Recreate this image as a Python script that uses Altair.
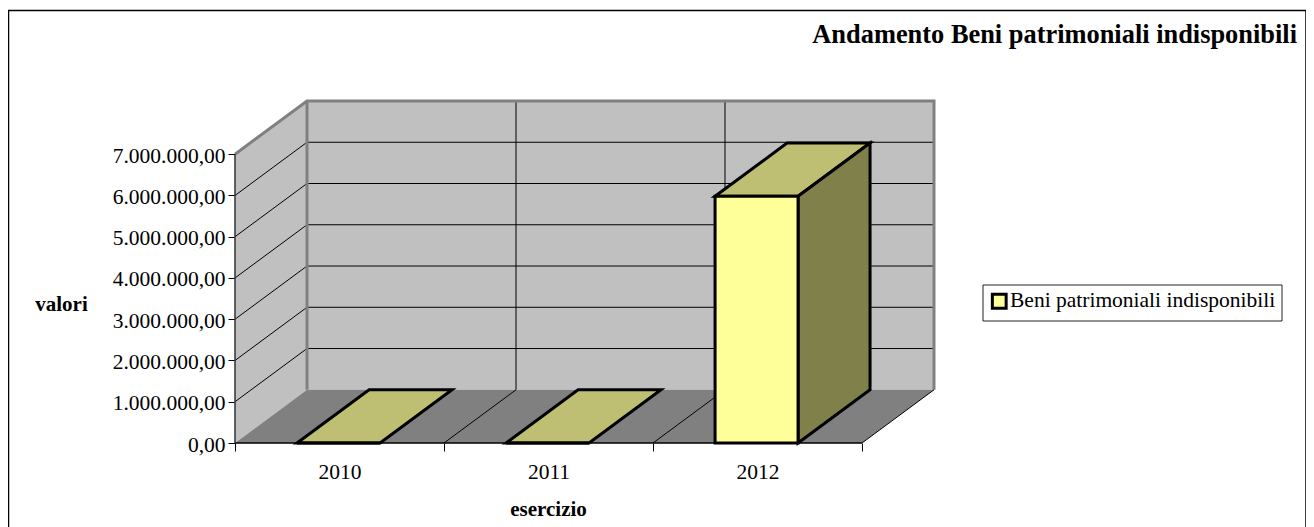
import altair as alt
import pandas as pd

YEARS = ["2010", "2011", "2012"]
VALUES = [0, 0, 5980000]
SERIES = "Beni patrimoniali indisponibili"
TICKS = [0, 1000000, 2000000, 3000000, 4000000, 5000000, 6000000, 7000000]
TICK_LABELS = ["0,00", "1.000.000,00", "2.000.000,00", "3.000.000,00", "4.000.000,00",
               "5.000.000,00", "6.000.000,00", "7.000.000,00"]

W, H = 699, 342
DX = 72 / 209          # depth of the 3D box, in category units
DY = 1290000           # depth of the 3D box, in value units
YMAX = 7000000
BAR_START = 0.297
BAR_W = 0.397
FONT = "Liberation Serif"
LABEL_SIZE = 21.5
TITLE_SIZE = 21

x_scale = alt.Scale(domain=[0, 3 + DX], nice=False, zero=False)
y_scale = alt.Scale(domain=[0, YMAX + DY], nice=False, zero=False)

x_axis = alt.Axis(values=[0, 0.5, 1, 1.5, 2, 2.5, 3], domain=False, grid=False,
                  labelExpr="{0.5:'%s',1.5:'%s',2.5:'%s'}[datum.value] || ''" % tuple(YEARS),
                  tickOpacity={"condition": {"test": "datum.value % 1 !== 0", "value": 0}, "value": 1},
                  tickColor="black", tickSize=8, tickWidth=1,
                  labelFont=FONT, labelFontSize=LABEL_SIZE, labelColor="black", labelPadding=10,
                  labelAngle=0, labelFlush=False, labelOverlap=False,
                  titleFont=FONT, titleFontSize=TITLE_SIZE, titleFontWeight="bold", titleColor="black",
                  titleX=313, titleY=66, titleAlign="center", titleBaseline="middle")
y_axis = alt.Axis(values=TICKS, domain=False, grid=False,
                  labelExpr="%s[datum.value / 1000000]" % TICK_LABELS,
                  tickColor="black", tickSize=7, tickWidth=1,
                  labelFont=FONT, labelFontSize=LABEL_SIZE, labelColor="black", labelPadding=3,
                  labelOverlap=False, labelFlush=False, labelOffset=2,
                  titleFont=FONT, titleFontSize=TITLE_SIZE, titleFontWeight="bold", titleColor="black",
                  titleAngle=0, titleX=-174, titleY=203, titleAlign="center", titleBaseline="middle")

X = alt.X("x:Q", scale=x_scale, axis=x_axis, title="esercizio")
Y = alt.Y("y:Q", scale=y_scale, axis=y_axis, title="valori")


def area(rows, color, stroke=None, sw=3):
    df = pd.DataFrame(rows, columns=["x", "y", "y2"])
    kw = dict(fill=color, strokeJoin="miter")
    if stroke:
        kw.update(stroke=stroke, strokeWidth=sw)
    return alt.Chart(df).mark_area(**kw).encode(x=X, y=Y, y2=alt.Y2("y2:Q"))


def line(points, color, sw=1.0):
    df = pd.DataFrame(points, columns=["x", "y"])
    df["o"] = range(len(df))
    return alt.Chart(df).mark_line(color=color, strokeWidth=sw).encode(
        x=X, y=Y, order=alt.Order("o:Q"))


def para(x0, x1, v):
    return [(x0, v, v), (x0 + DX, v + DY, v), (x1, v + DY, v), (x1 + DX, v + DY, v + DY)]


frame_df = pd.DataFrame({"a": [0]})
frame = alt.Chart(frame_df).mark_rect(fillOpacity=0, stroke="black", strokeWidth=1.5).encode(
    x=alt.value(-226.5), x2=alt.value(1071), y=alt.value(-90.5), y2=alt.value(440))

left_wall = area([(0, 0, YMAX), (DX, DY, YMAX + DY)], "#C0C0C0")
back_wall = area([(DX, DY, YMAX + DY), (3 + DX, DY, YMAX + DY)], "#C0C0C0")
floor = area(para(0, 3, 0), "#808080")

layers = [frame, left_wall, back_wall, floor]

# gridlines
for t in TICKS[1:]:
    layers.append(line([(0, t), (DX, t + DY), (3 + DX, t + DY)], "black", 1))
for i in (1, 2):
    layers.append(line([(i, 0), (i + DX, DY), (i + DX, YMAX + DY)], "black", 1))

# wall border
layers.append(line([(0, YMAX), (DX, YMAX + DY), (3 + DX, YMAX + DY), (3 + DX, DY)], "#808080", 3))
layers.append(line([(DX, YMAX + DY), (DX, DY)], "#808080", 3))

# axis lines and floor edge
layers.append(line([(3, 0), (3 + DX, DY)], "black", 1))
layers.append(line([(0, 0), (3, 0)], "black", 1.5))
layers.append(line([(0, 0), (0, YMAX)], "#333333", 1.5))

# 3D bars
for i, v in enumerate(VALUES):
    x0 = i + BAR_START
    x1 = x0 + BAR_W
    layers.append(area(para(x0, x1, v), "#BEBF72", "black"))
    if v > 0:
        layers.append(area([(x1, 0, v), (x1 + DX, DY, v + DY)], "#80804A", "black"))
    df = pd.DataFrame({"x": [x0, x1], "y": [0, 0], "y2": [v, v], "serie": [SERIES, SERIES]})
    layers.append(alt.Chart(df).mark_area(stroke="black", strokeWidth=3, strokeJoin="miter").encode(
        x=X, y=Y, y2=alt.Y2("y2:Q"),
        color=alt.Color("serie:N", title=None,
                        scale=alt.Scale(domain=[SERIES], range=["#FFFF99"]),
                        legend=alt.Legend(orient="none", legendX=747.5, legendY=183.5,
                                          direction="vertical", symbolType="square", symbolSize=190,
                                          symbolStrokeColor="black", symbolStrokeWidth=3,
                                          labelFont=FONT, labelFontSize=LABEL_SIZE, labelColor="black",
                                          labelLimit=400, labelOffset=0,
                                          padding=6, strokeColor="#222222", fillColor="white"))))

chart = alt.layer(*layers).properties(
    width=W, height=H,
    autosize=alt.AutoSizeParams(type="none"),
    padding={"left": 227, "top": 93, "right": 372, "bottom": 84},
    title=alt.TitleParams("Andamento Beni patrimoniali indisponibili", anchor="end", frame="group",
                          dx=363, dy=60, offset=0, baseline="alphabetic",
                          font=FONT, fontSize=26.4, fontWeight="bold", color="black"),
).configure_view(stroke=None)

chart.save("out.html", embed_options={"renderer": "svg", "actions": False})
